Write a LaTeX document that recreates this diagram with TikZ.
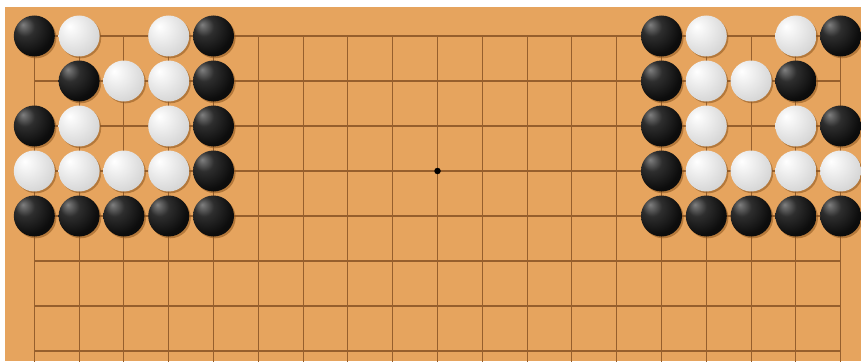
\documentclass[tikz,border=0pt]{standalone}
\definecolor{wood}{RGB}{230,164,94}
\definecolor{gridline}{RGB}{150,95,45}
\definecolor{shadowc}{RGB}{140,85,30}
\pgfdeclareradialshading{blackstone}{\pgfpoint{-14bp}{14bp}}{color(0bp)=(black!50); color(12bp)=(black!82); color(30bp)=(black!95); color(70bp)=(black)}
\pgfdeclareradialshading{whitestone}{\pgfpoint{-12bp}{12bp}}{color(0bp)=(white); color(14bp)=(white!93!black); color(40bp)=(black!20); color(56bp)=(black!35); color(70bp)=(black!45)}
\begin{document}
\begin{tikzpicture}[x=1pt,y=-1pt,
  stone/.style={circle,minimum size=41pt,inner sep=0pt},
  stoneb/.style={stone,shading=blackstone},
  stonew/.style={stone,shading=whitestone},
  gridl/.style={draw=gridline,line width=1.15pt,line cap=rect},
  stoneshadow/.style={fill=shadowc,opacity=0.55}]
\useasboundingbox (0,0) rectangle (861,361);
\fill[white] (0,0) rectangle (861,361);
\fill[wood] (5,7) rectangle (861,361);
\foreach \c in {0,...,18}
  \draw[gridl] ({34.3+44.8*\c},36) -- ({34.3+44.8*\c},362);
\foreach \r in {0,...,7}
  \draw[gridl] (34.3,{36+45*\r}) -- (840.5,{36+45*\r});
\node[circle,fill=black,minimum size=6.5pt,inner sep=0pt] (hoshi) at (437.5,171) {};
\foreach \c/\r/\s in {
  0/0/b,1/0/w,3/0/w,4/0/b,
  1/1/b,2/1/w,3/1/w,4/1/b,
  0/2/b,1/2/w,3/2/w,4/2/b,
  0/3/w,1/3/w,2/3/w,3/3/w,4/3/b,
  0/4/b,1/4/b,2/4/b,3/4/b,4/4/b,
  14/0/b,15/0/w,17/0/w,18/0/b,
  14/1/b,15/1/w,16/1/w,17/1/b,
  14/2/b,15/2/w,17/2/w,18/2/b,
  14/3/b,15/3/w,16/3/w,17/3/w,18/3/w,
  14/4/b,15/4/b,16/4/b,17/4/b,18/4/b}{
  \fill[stoneshadow] ({34.3+44.8*\c+1.6},{36+45*\r+1.8}) circle (20.5);
  \node[stone\s] (s-\c-\r) at ({34.3+44.8*\c},{36+45*\r}) {};
}
\end{tikzpicture}
\end{document}
